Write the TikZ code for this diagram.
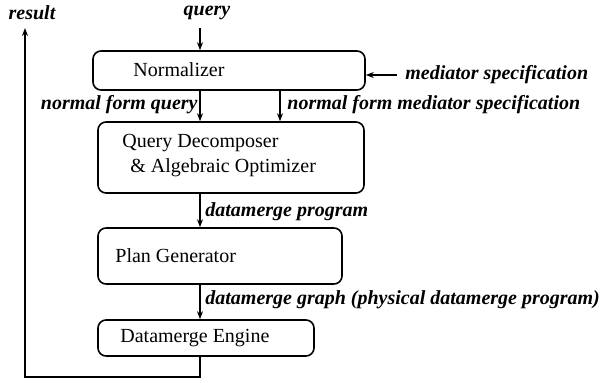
\documentclass[tikz,border=0pt]{standalone}
\usepackage{fontspec}
\setmainfont{Liberation Serif}
\usetikzlibrary{arrows.meta}
\begin{document}
\begin{tikzpicture}[x=0.5pt,y=-0.5pt,
 box/.style={draw, rounded corners=4pt, line width=0.8pt, inner sep=0pt},
 lbl/.style={font=\fontsize{10}{12}\selectfont\bfseries\itshape, inner sep=0pt},
 btxt/.style={font=\fontsize{10}{12}\selectfont, inner sep=0pt, anchor=west},
 arr/.style={-{Stealth[length=4pt,width=3pt]}, line width=0.7pt},
 ln/.style={line width=0.7pt}]
\useasboundingbox (0,0) rectangle (601,382);
% boxes
\node[box, minimum width=136pt, minimum height=19.5pt] (norm) at (229,70.5) {};
\node[box, minimum width=133pt, minimum height=35.5pt] (qd) at (231,157.5) {};
\node[box, minimum width=122pt, minimum height=28pt] (pg) at (220,256) {};
\node[box, minimum width=108pt, minimum height=18pt] (de) at (206,338) {};
% box texts
\node[btxt] (tnorm) at (133,70) {Normalizer};
\node[btxt] (tqd1) at (122,143) {Query Decomposer};
\node[btxt] (tqd2) at (130,168) {\& Algebraic Optimizer};
\node[btxt] (tpg) at (115,256) {Plan Generator};
\node[btxt] (tde) at (120,338) {Datamerge Engine};
% helper coordinates
\coordinate (c1) at (200,0);
\coordinate (c2) at (280,0);
\coordinate (qa) at (200,28);
\coordinate (ms) at (397,75);
\coordinate (rl) at (25,377);
\coordinate (rt) at (25,28);
% labels
\node[lbl] (lq) at (207,13) {query};
\node[lbl] (lr) at (32,13) {result};
\node[lbl, anchor=west] (lms) at (405,75) {mediator specification};
\node[lbl, anchor=east] (lnfq) at (198,105) {normal form query};
\node[lbl, anchor=west] (lnfm) at (287,105) {normal form mediator specification};
\node[lbl, anchor=west] (ldp) at (205,212) {datamerge program};
\node[lbl, anchor=west] (ldg) at (205,300) {datamerge graph (physical datamerge program)};
% arrows
\draw[arr] (qa) -- (qa |- norm.north);
\draw[arr] (ms) -- (ms -| norm.east);
\draw[arr] (norm.south -| c1) -- (qd.north -| c1);
\draw[arr] (norm.south -| c2) -- (qd.north -| c2);
\draw[arr] (qd.south -| c1) -- (pg.north -| c1);
\draw[arr] (pg.south -| c1) -- (de.north -| c1);
\draw[arr] (de.south -| c1) |- (rl) -- (rt);
\end{tikzpicture}
\end{document}
